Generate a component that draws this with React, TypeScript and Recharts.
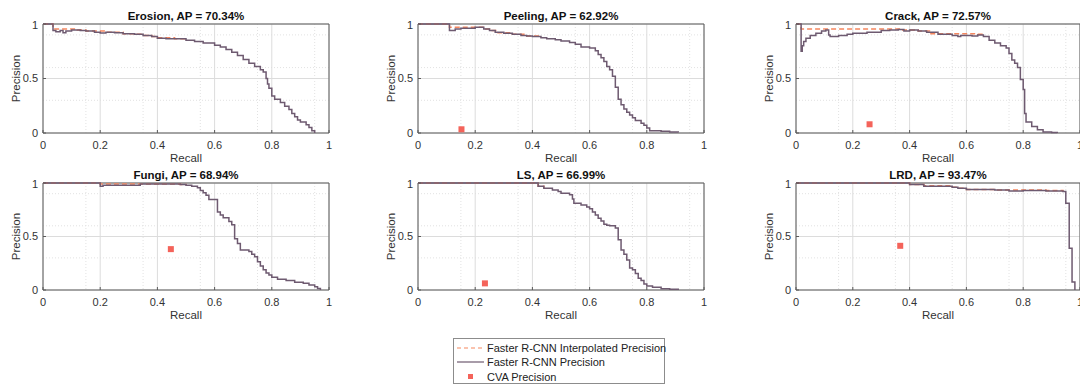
import React from 'react';
import { ComposedChart, Line, Scatter, XAxis, YAxis, CartesianGrid } from 'recharts';

// ---------- data ----------
const xTicks = [0, 0.2, 0.4, 0.6, 0.8, 1];
const yTicks = [0, 0.5, 1];
const minorX = [0.05, 0.1, 0.15, 0.25, 0.3, 0.35, 0.45, 0.5, 0.55, 0.65, 0.7, 0.75, 0.85, 0.9, 0.95];
const minorY = [0.1, 0.2, 0.3, 0.4, 0.6, 0.7, 0.8, 0.9];
const frameX = [0, 1];
const frameY = [0, 1];

const erosionR = [0, 0.035, 0.045, 0.06, 0.07, 0.08, 0.1, 0.13, 0.15, 0.18, 0.2, 0.22, 0.25, 0.28, 0.32, 0.35, 0.38, 0.4, 0.43, 0.46, 0.5, 0.53, 0.56, 0.6, 0.62, 0.64, 0.66, 0.68, 0.7, 0.72, 0.74, 0.76, 0.77, 0.78, 0.785, 0.79, 0.8, 0.81, 0.83, 0.845, 0.86, 0.87, 0.88, 0.89, 0.9, 0.92, 0.93, 0.94, 0.95];
const erosionP = [1, 0.94, 0.93, 0.94, 0.92, 0.935, 0.945, 0.94, 0.935, 0.925, 0.918, 0.925, 0.92, 0.91, 0.905, 0.895, 0.885, 0.87, 0.865, 0.865, 0.85, 0.84, 0.825, 0.805, 0.79, 0.765, 0.74, 0.71, 0.675, 0.64, 0.61, 0.58, 0.56, 0.5, 0.45, 0.41, 0.34, 0.31, 0.28, 0.245, 0.215, 0.18, 0.15, 0.12, 0.1, 0.075, 0.05, 0.02, 0];
const erosionIR = [0, 0.035, 0.12, 0.15, 0.22, 0.28, 0.32, 0.35, 0.38, 0.4, 0.46, 0.5];
const erosionIP = [1, 0.955, 0.945, 0.935, 0.925, 0.91, 0.905, 0.895, 0.885, 0.875, 0.865, 0.85];

const peelingR = [0, 0.11, 0.13, 0.15, 0.2, 0.23, 0.25, 0.27, 0.3, 0.33, 0.36, 0.38, 0.4, 0.43, 0.45, 0.48, 0.5, 0.53, 0.55, 0.57, 0.6, 0.62, 0.63, 0.64, 0.65, 0.66, 0.67, 0.68, 0.69, 0.7, 0.71, 0.72, 0.73, 0.74, 0.75, 0.76, 0.78, 0.79, 0.8, 0.81, 0.85, 0.88, 0.91];
const peelingP = [1, 0.94, 0.955, 0.96, 0.97, 0.955, 0.94, 0.925, 0.915, 0.905, 0.895, 0.89, 0.885, 0.875, 0.865, 0.855, 0.845, 0.83, 0.815, 0.79, 0.78, 0.755, 0.72, 0.69, 0.655, 0.61, 0.58, 0.52, 0.42, 0.31, 0.26, 0.22, 0.19, 0.165, 0.14, 0.115, 0.09, 0.07, 0.045, 0.02, 0.015, 0.01, 0.005];
const peelingIR = [0, 0.11, 0.23, 0.25, 0.28, 0.33, 0.38, 0.43];
const peelingIP = [1, 0.97, 0.955, 0.94, 0.92, 0.905, 0.89, 0.875];
const peelingCvaR = [0.152];
const peelingCvaP = [0.034];

const crackR = [0, 0.018, 0.022, 0.027, 0.035, 0.05, 0.07, 0.09, 0.105, 0.115, 0.12, 0.15, 0.18, 0.2, 0.25, 0.3, 0.33, 0.36, 0.38, 0.4, 0.43, 0.46, 0.5, 0.55, 0.57, 0.58, 0.62, 0.64, 0.66, 0.68, 0.7, 0.72, 0.74, 0.75, 0.76, 0.77, 0.78, 0.79, 0.8, 0.805, 0.81, 0.83, 0.85, 0.87, 0.9, 0.92];
const crackP = [1, 0.75, 0.8, 0.84, 0.87, 0.895, 0.915, 0.935, 0.945, 0.9, 0.885, 0.895, 0.905, 0.915, 0.925, 0.94, 0.945, 0.95, 0.935, 0.945, 0.935, 0.925, 0.905, 0.895, 0.885, 0.895, 0.89, 0.9, 0.885, 0.85, 0.825, 0.8, 0.78, 0.73, 0.67, 0.64, 0.6, 0.49, 0.4, 0.18, 0.1, 0.06, 0.03, 0.01, 0.005, 0];
const crackIR = [0, 0.018, 0.37, 0.43, 0.47, 0.64, 0.66];
const crackIP = [1, 0.955, 0.945, 0.935, 0.91, 0.905, 0.885];
const crackCvaR = [0.259];
const crackCvaP = [0.08];

const fungiR = [0, 0.2, 0.21, 0.34, 0.48, 0.5, 0.52, 0.54, 0.55, 0.56, 0.57, 0.58, 0.61, 0.62, 0.63, 0.65, 0.66, 0.67, 0.68, 0.69, 0.72, 0.73, 0.74, 0.75, 0.76, 0.77, 0.78, 0.79, 0.8, 0.82, 0.85, 0.88, 0.91, 0.93, 0.95, 0.96, 0.97];
const fungiP = [1, 0.97, 0.98, 0.99, 0.985, 0.98, 0.97, 0.955, 0.93, 0.91, 0.885, 0.845, 0.73, 0.7, 0.675, 0.64, 0.61, 0.48, 0.435, 0.375, 0.36, 0.335, 0.31, 0.265, 0.225, 0.19, 0.16, 0.14, 0.12, 0.1, 0.088, 0.072, 0.062, 0.047, 0.03, 0.015, 0];
const fungiIR = [0, 0.2, 0.48, 0.5];
const fungiIP = [1, 0.99, 0.985, 0.98];
const fungiCvaR = [0.447];
const fungiCvaP = [0.382];

const lsR = [0, 0.42, 0.44, 0.47, 0.49, 0.5, 0.53, 0.54, 0.545, 0.57, 0.59, 0.6, 0.61, 0.62, 0.63, 0.64, 0.65, 0.66, 0.67, 0.69, 0.7, 0.71, 0.72, 0.73, 0.74, 0.75, 0.76, 0.77, 0.78, 0.79, 0.8, 0.82, 0.85, 0.88, 0.91];
const lsP = [1, 0.97, 0.95, 0.935, 0.92, 0.905, 0.89, 0.85, 0.81, 0.795, 0.775, 0.76, 0.73, 0.7, 0.67, 0.645, 0.615, 0.605, 0.6, 0.58, 0.47, 0.375, 0.335, 0.28, 0.205, 0.19, 0.155, 0.11, 0.088, 0.057, 0.037, 0.025, 0.012, 0.006, 0];
const lsIR = [0, 0.42, 0.44];
const lsIP = [1, 0.97, 0.95];
const lsCvaR = [0.234];
const lsCvaP = [0.062];

const lrdR = [0, 0.4, 0.45, 0.55, 0.57, 0.6, 0.7, 0.75, 0.8, 0.88, 0.94, 0.95, 0.962, 0.972, 0.982];
const lrdP = [1, 0.985, 0.97, 0.96, 0.95, 0.94, 0.935, 0.925, 0.93, 0.925, 0.92, 0.81, 0.39, 0.075, 0];
const lrdIR = [0, 0.4, 0.45, 0.55, 0.57, 0.6, 0.7, 0.88, 0.94];
const lrdIP = [1, 0.985, 0.975, 0.96, 0.95, 0.94, 0.935, 0.93, 0.92];
const lrdCvaR = [0.367];
const lrdCvaP = [0.413];

// ---------- styles ----------
const LINE = '#6e5a70';
const DASH = '#f5875f';
const MARK = '#f4635a';
const FRAME = '#5a5a5a';
const FONT = '"Liberation Sans", Arial, Helvetica, sans-serif';

type Pt = { r: number; p: number };
const zip = (r: number[], p: number[]): Pt[] => r.map((x, i) => ({ r: x, p: p[i] }));

const Square = (props: any) => {
  const { cx, cy } = props;
  if (cx == null || cy == null) return null;
  return <rect x={cx - 3} y={cy - 3} width={6} height={6} fill={MARK} />;
};

const NoLabel = () => <g />;

type PanelProps = {
  title: string;
  prec: Pt[];
  interp: Pt[];
  cva?: Pt[];
  plotLeft: number;
  plotTop: number;
  plotW: number;
  plotH: number;
};

const YW = 43;
const XH = 33;
const MT = 5;
const MR = 14;

function Panel({ title, prec, interp, cva, plotLeft, plotTop, plotW, plotH }: PanelProps) {
  const w = YW + plotW + MR;
  const h = MT + plotH + XH;
  return (
    <>
      <div
        style={{
          position: 'absolute',
          left: plotLeft,
          width: plotW,
          top: plotTop - 15,
          textAlign: 'center',
          fontFamily: FONT,
          fontWeight: 'bold',
          fontSize: 11.5,
          lineHeight: '14px',
          color: '#111',
          whiteSpace: 'nowrap',
        }}
      >
        {title}
      </div>
      <div style={{ position: 'absolute', left: plotLeft - YW, top: plotTop - MT, width: w, height: h }}>
        <ComposedChart width={w} height={h} margin={{ top: MT, right: MR, left: 0, bottom: 0 }}>
          <CartesianGrid verticalValues={minorX} horizontalValues={minorY} stroke="#e2e2e2" strokeDasharray="1 2" />
          <CartesianGrid verticalValues={xTicks} horizontalValues={yTicks} stroke="#dcdcdc" />
          <CartesianGrid verticalValues={frameX} horizontalValues={frameY} stroke={FRAME} />
          <XAxis
            dataKey="r"
            type="number"
            domain={[0, 1]}
            ticks={xTicks}
            height={XH}
            tickLine={{ stroke: FRAME }}
            axisLine={false}
            tickSize={-3}
            tickMargin={11}
            tick={{ fill: '#333', fontSize: 11, fontFamily: FONT }}
            label={{ value: 'Recall', position: 'insideBottom', offset: 4, fill: '#333', fontSize: 11.5, fontFamily: FONT }}
          />
          <XAxis
            xAxisId="top"
            orientation="top"
            type="number"
            domain={[0, 1]}
            ticks={xTicks}
            height={0}
            axisLine={false}
            tickLine={{ stroke: FRAME }}
            tickSize={-3}
            tick={NoLabel}
          />
          <YAxis
            dataKey="p"
            type="number"
            domain={[0, 1]}
            ticks={yTicks}
            width={YW}
            tickLine={{ stroke: FRAME }}
            axisLine={false}
            tickSize={-3}
            tickMargin={8}
            tick={{ fill: '#333', fontSize: 11, fontFamily: FONT }}
            label={{ value: 'Precision', angle: -90, position: 'insideLeft', offset: 16, fill: '#333', fontSize: 11.5, fontFamily: FONT, style: { textAnchor: 'middle' } }}
          />
          <YAxis
            yAxisId="right"
            orientation="right"
            type="number"
            domain={[0, 1]}
            ticks={yTicks}
            width={0}
            axisLine={false}
            tickLine={{ stroke: FRAME }}
            tickSize={-3}
            tick={NoLabel}
          />
          <Line
            data={interp}
            dataKey="p"
            type="stepAfter"
            stroke={DASH}
            strokeWidth={1.5}
            strokeDasharray="5 3"
            dot={false}
            activeDot={false}
            isAnimationActive={false}
          />
          <Line
            data={prec}
            dataKey="p"
            type="stepAfter"
            stroke={LINE}
            strokeWidth={1.5}
            dot={false}
            activeDot={false}
            isAnimationActive={false}
          />
          {cva && <Scatter data={cva} dataKey="p" shape={<Square />} isAnimationActive={false} />}
        </ComposedChart>
      </div>
    </>
  );
}

function Legend() {
  const rowStyle: React.CSSProperties = { position: 'absolute', left: 0, height: 14, display: 'flex', alignItems: 'center' };
  const textStyle: React.CSSProperties = { position: 'absolute', left: 33, fontFamily: FONT, fontSize: 11, color: '#222', whiteSpace: 'nowrap', lineHeight: '14px' };
  return (
    <div
      style={{
        position: 'absolute',
        left: 453,
        top: 338,
        width: 212,
        height: 46,
        border: '1px solid #8c8c8c',
        background: '#fff',
        boxSizing: 'border-box',
      }}
    >
      <div style={{ ...rowStyle, top: 2 }}>
        <svg width={32} height={14} style={{ position: 'absolute', left: 0 }}>
          <line x1={3} x2={30} y1={7} y2={7} stroke={DASH} strokeWidth={1.2} strokeDasharray="4 3" />
        </svg>
        <span style={textStyle}>Faster R-CNN Interpolated Precision</span>
      </div>
      <div style={{ ...rowStyle, top: 16 }}>
        <svg width={32} height={14} style={{ position: 'absolute', left: 0 }}>
          <line x1={3} x2={30} y1={7} y2={7} stroke={LINE} strokeWidth={1.2} />
        </svg>
        <span style={textStyle}>Faster R-CNN Precision</span>
      </div>
      <div style={{ ...rowStyle, top: 31 }}>
        <svg width={32} height={14} style={{ position: 'absolute', left: 0 }}>
          <rect x={14} y={4} width={5} height={5} fill={MARK} />
        </svg>
        <span style={textStyle}>CVA Precision</span>
      </div>
    </div>
  );
}

export default function App() {
  const W = 286;
  return (
    <div style={{ position: 'absolute', left: 0, top: 0, width: 1080, height: 385, overflow: 'hidden', background: '#fff' }}>
      <Panel title="Erosion, AP = 70.34%" prec={zip(erosionR, erosionP)} interp={zip(erosionIR, erosionIP)} plotLeft={43} plotTop={24} plotW={W} plotH={109} />
      <Panel title="Peeling, AP = 62.92%" prec={zip(peelingR, peelingP)} interp={zip(peelingIR, peelingIP)} cva={zip(peelingCvaR, peelingCvaP)} plotLeft={418} plotTop={24} plotW={W} plotH={109} />
      <Panel title="Crack, AP = 72.57%" prec={zip(crackR, crackP)} interp={zip(crackIR, crackIP)} cva={zip(crackCvaR, crackCvaP)} plotLeft={796} plotTop={24} plotW={284} plotH={109} />
      <Panel title="Fungi, AP = 68.94%" prec={zip(fungiR, fungiP)} interp={zip(fungiIR, fungiIP)} cva={zip(fungiCvaR, fungiCvaP)} plotLeft={43} plotTop={183} plotW={W} plotH={107} />
      <Panel title="LS, AP = 66.99%" prec={zip(lsR, lsP)} interp={zip(lsIR, lsIP)} cva={zip(lsCvaR, lsCvaP)} plotLeft={418} plotTop={183} plotW={W} plotH={107} />
      <Panel title="LRD, AP = 93.47%" prec={zip(lrdR, lrdP)} interp={zip(lrdIR, lrdIP)} cva={zip(lrdCvaR, lrdCvaP)} plotLeft={796} plotTop={183} plotW={284} plotH={107} />
      <Legend />
    </div>
  );
}
